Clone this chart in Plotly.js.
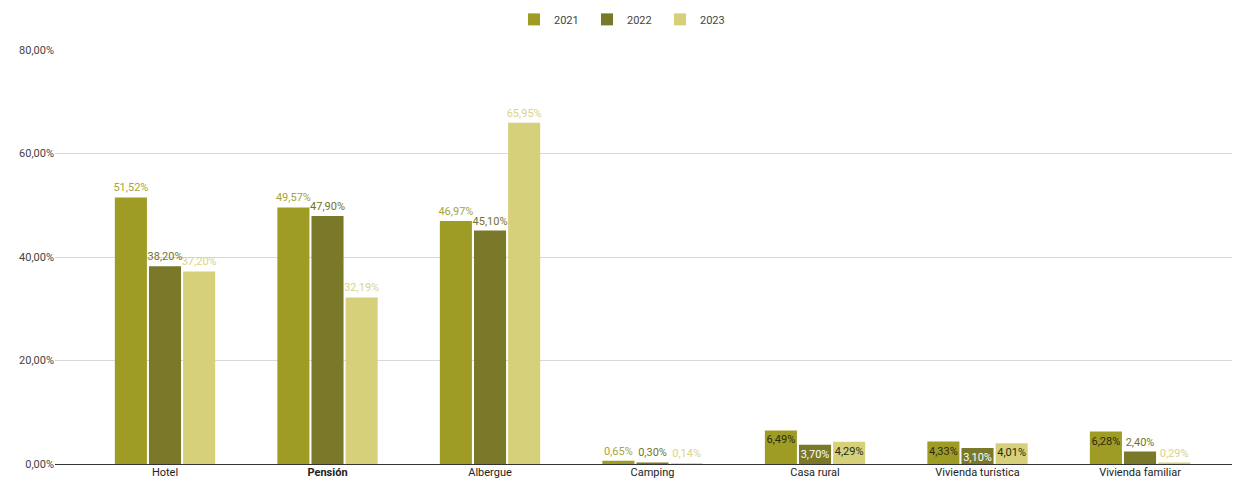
<!DOCTYPE html>
<html><head><meta charset="utf-8">
<script src="https://cdn.plot.ly/plotly-3.0.1.min.js"></script>
<style>html,body{margin:0;padding:0;background:#fff}#c{width:1240px;height:484px}</style>
</head><body><div id="c"></div>
<script>
const categories = ["Hotel", "Pensión", "Albergue", "Camping", "Casa rural", "Vivienda turística", "Vivienda familiar"];
const tickLabels = ["Hotel", "<b>Pensión</b>", "Albergue", "Camping", "Casa rural", "Vivienda turística", "Vivienda familiar"];
const years = ["2021", "2022", "2023"];
const v2021 = [51.52, 49.57, 46.97, 0.65, 6.49, 4.33, 6.28];
const v2022 = [38.20, 47.90, 45.10, 0.30, 3.70, 3.10, 2.40];
const v2023 = [37.20, 32.19, 65.95, 0.14, 4.29, 4.01, 0.29];
const yTicks = [0, 20, 40, 60, 80];

const barColors = ["#9f9c26", "#7a7929", "#d6d07a"];
const outColors = ["#a8a43c", "#74732b", "#d9d486"];
const inColors = ["#2a2a10", "#ffffff", "#2a2a10"];
const series = [v2021, v2022, v2023];

const fmt = v => v.toFixed(2).replace(".", ",") + "%";

const traces = series.map((vals, k) => {
  const pos = vals.map(v => (v >= 3 && v < 10) ? "inside" : "outside");
  return {
    type: "bar",
    name: years[k],
    x: categories,
    y: vals,
    text: vals.map(fmt),
    textposition: pos,
    textangle: 0,
    insidetextanchor: "end",
    constraintext: "none",
    cliponaxis: false,
    textfont: {family: "Roboto, sans-serif", size: 11, color: vals.map((v, i) => pos[i] === "inside" ? inColors[k] : outColors[k])},
    marker: {color: barColors[k]},
    hoverinfo: "skip"
  };
});

const layout = {
  width: 1240, height: 484,
  margin: {l: 55, r: 8, t: 50, b: 20},
  paper_bgcolor: "#fff", plot_bgcolor: "#fff",
  font: {family: "Roboto, sans-serif", size: 11, color: "#444"},
  separators: ",.",
  barmode: "group",
  bargap: 0.37,
  bargroupgap: 0.06,
  showlegend: true,
  legend: {orientation: "h", x: 0.483, xanchor: "center", y: 0.93, yanchor: "bottom", yref: "container",
           font: {size: 11, color: "#444"}, entrywidth: 28, entrywidthmode: "pixels", traceorder: "normal", itemwidth: 30},
  xaxis: {
    type: "category",
    tickmode: "array", tickvals: categories, ticktext: tickLabels,
    range: [-0.677, 6.566],
    showgrid: false, ticks: "", showline: false, zeroline: false,
    tickfont: {size: 11, color: "#222"}
  },
  yaxis: {
    range: [0, 80],
    tickmode: "array", tickvals: yTicks, ticktext: yTicks.map(fmt),
    showgrid: true, gridcolor: "#d9d9d9", gridwidth: 1,
    zeroline: true, zerolinecolor: "#333", zerolinewidth: 1,
    ticks: "", showline: false,
    tickfont: {size: 11, color: "#444"}
  }
};

Plotly.newPlot("c", traces, layout, {displayModeBar: false, staticPlot: true});
</script>
</body></html>
